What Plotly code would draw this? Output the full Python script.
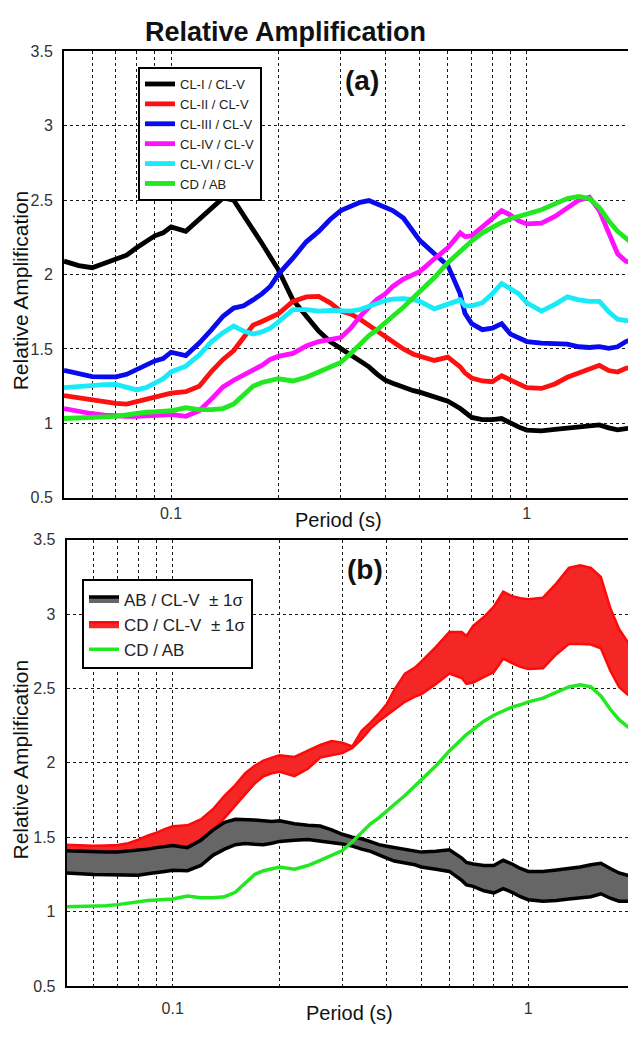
import math
import plotly.graph_objects as go

# ---------------- data ----------------
periods = [0.05, 0.055, 0.06, 0.065, 0.07, 0.075, 0.08, 0.085, 0.09, 0.095,
           0.1, 0.11, 0.12, 0.13, 0.14, 0.15, 0.16, 0.17, 0.18, 0.19,
           0.2, 0.22, 0.24, 0.26, 0.28,
           0.3, 0.32, 0.34, 0.36, 0.38,
           0.4, 0.42, 0.45, 0.48,
           0.5, 0.55, 0.6, 0.65, 0.67,
           0.7, 0.75, 0.8, 0.85, 0.9, 0.95,
           1.0, 1.1, 1.2, 1.3, 1.4, 1.5, 1.6, 1.7, 1.8, 1.9, 2.0]

cl1_cl5 = [2.09, 2.06, 2.046, 2.075, 2.10, 2.13, 2.18, 2.22, 2.26, 2.28,
           2.32, 2.29, 2.37, 2.45, 2.515, 2.50, 2.40, 2.31, 2.21, 2.12,
           2.035, 1.83, 1.72, 1.62, 1.55,
           1.50, 1.46, 1.42, 1.38, 1.33,
           1.29, 1.27, 1.24, 1.22,
           1.21, 1.18, 1.15, 1.10, 1.075,
           1.04, 1.026, 1.025, 1.033, 1.00, 0.975,
           0.955, 0.95, 0.96, 0.968, 0.975, 0.985, 0.99, 0.97, 0.957, 0.965, 0.97]

cl2_cl5 = [1.187, 1.17, 1.16, 1.145, 1.135, 1.13, 1.145, 1.16, 1.175, 1.19,
           1.203, 1.213, 1.25, 1.35, 1.43, 1.49, 1.58, 1.66, 1.685, 1.71,
           1.735, 1.82, 1.85, 1.853, 1.81,
           1.754, 1.735, 1.70, 1.66, 1.615,
           1.58, 1.545, 1.50, 1.465,
           1.45, 1.423, 1.445, 1.38, 1.34,
           1.305, 1.285, 1.28, 1.32, 1.29, 1.26,
           1.24, 1.235, 1.265, 1.31, 1.34, 1.36, 1.39, 1.355, 1.345, 1.37, 1.38]

cl3_cl5 = [1.357, 1.335, 1.315, 1.313, 1.313, 1.33, 1.36, 1.39, 1.42, 1.435,
           1.478, 1.456, 1.54, 1.63, 1.72, 1.775, 1.79, 1.83, 1.87, 1.92,
           2.00, 2.11, 2.22, 2.29, 2.37,
           2.43, 2.46, 2.485, 2.497, 2.475,
           2.455, 2.43, 2.38, 2.29,
           2.23, 2.14, 2.06, 1.87, 1.74,
           1.67, 1.63, 1.64, 1.67, 1.60, 1.575,
           1.55, 1.54, 1.54, 1.533, 1.515, 1.51, 1.516, 1.505, 1.515, 1.55, 1.57]

cl4_cl5 = [1.10, 1.08, 1.065, 1.055, 1.048, 1.048, 1.048, 1.052, 1.058, 1.06,
           1.06, 1.048, 1.085, 1.165, 1.245, 1.29, 1.325, 1.35, 1.39, 1.43,
           1.45, 1.47, 1.52, 1.55, 1.56,
           1.577, 1.64, 1.72, 1.78, 1.835,
           1.87, 1.92, 1.97, 2.0,
           2.02, 2.106, 2.18, 2.28, 2.255,
           2.26, 2.32, 2.38, 2.43, 2.40, 2.36,
           2.34, 2.345, 2.39, 2.45, 2.50, 2.52, 2.43, 2.28, 2.14, 2.09, 2.08]

cl6_cl5 = [1.24, 1.25, 1.258, 1.26, 1.262, 1.245, 1.225, 1.24, 1.27, 1.30,
           1.346, 1.385, 1.46, 1.55, 1.61, 1.654, 1.62, 1.60, 1.615, 1.64,
           1.68, 1.764, 1.764, 1.755, 1.76,
           1.76, 1.755, 1.765, 1.785, 1.81,
           1.825, 1.835, 1.838, 1.832,
           1.82, 1.77, 1.805, 1.83, 1.79,
           1.79, 1.81, 1.87, 1.94, 1.905, 1.87,
           1.81, 1.755, 1.80, 1.85, 1.83, 1.82, 1.82, 1.75, 1.70, 1.69, 1.69]

cd_ab = [1.033, 1.035, 1.037, 1.04, 1.047, 1.058, 1.07, 1.075, 1.078, 1.08,
         1.085, 1.105, 1.093, 1.093, 1.10, 1.13, 1.19, 1.25, 1.275, 1.29,
         1.30, 1.285, 1.31, 1.345, 1.38,
         1.41, 1.47, 1.53, 1.59, 1.63,
         1.68, 1.72, 1.78, 1.845,
         1.88, 1.98, 2.08, 2.16, 2.19,
         2.225, 2.28, 2.32, 2.35, 2.375, 2.39,
         2.41, 2.435, 2.475, 2.51, 2.525, 2.51, 2.45, 2.36, 2.29, 2.24, 2.2]

ab_cl5_hi = [1.41, 1.405, 1.40, 1.40, 1.40, 1.405, 1.41, 1.42, 1.43, 1.44,
             1.445, 1.43, 1.48, 1.55, 1.60, 1.62, 1.62, 1.615, 1.61, 1.605,
             1.61, 1.59, 1.58, 1.575, 1.55,
             1.52, 1.50, 1.49, 1.47, 1.45,
             1.44, 1.43, 1.42, 1.405,
             1.40, 1.405, 1.415, 1.36, 1.33,
             1.32, 1.31, 1.31, 1.345, 1.32, 1.29,
             1.27, 1.27, 1.28, 1.29, 1.30, 1.315, 1.325, 1.29, 1.26, 1.245, 1.24]

ab_cl5_lo = [1.26, 1.255, 1.25, 1.248, 1.245, 1.245, 1.245, 1.255, 1.265, 1.27,
             1.278, 1.275, 1.31, 1.38, 1.42, 1.45, 1.457, 1.452, 1.45, 1.46,
             1.472, 1.48, 1.485, 1.475, 1.465,
             1.455, 1.44, 1.42, 1.405, 1.38,
             1.36, 1.34, 1.325, 1.315,
             1.30, 1.285, 1.27, 1.21, 1.18,
             1.17, 1.14, 1.125, 1.155, 1.13, 1.10,
             1.08, 1.07, 1.075, 1.085, 1.095, 1.10, 1.12, 1.09, 1.07, 1.07, 1.07]

cd_cl5_hi = [1.45, 1.445, 1.442, 1.445, 1.448, 1.46, 1.483, 1.51, 1.53, 1.555,
             1.574, 1.58, 1.62, 1.69, 1.78, 1.85, 1.93, 1.98, 2.015, 2.035,
             2.05, 2.04, 2.08, 2.12, 2.147,
             2.136, 2.11, 2.215, 2.27, 2.33,
             2.395, 2.49, 2.60, 2.64,
             2.68, 2.78, 2.88, 2.88, 2.853,
             2.92, 2.98, 3.05, 3.15, 3.12, 3.106,
             3.10, 3.11, 3.206, 3.31, 3.327, 3.31, 3.25, 3.04, 2.90, 2.815, 2.78]

cd_cl5_lo = [1.405, 1.395, 1.387, 1.387, 1.387, 1.39, 1.398, 1.41, 1.42, 1.432,
             1.442, 1.43, 1.46, 1.55, 1.63, 1.71, 1.79, 1.86, 1.91, 1.93,
             1.94, 1.91, 1.96, 2.035, 2.05,
             2.065, 2.10, 2.16, 2.23, 2.28,
             2.32, 2.36, 2.41, 2.445,
             2.46, 2.53, 2.60, 2.57, 2.53,
             2.54, 2.575, 2.61, 2.70, 2.67, 2.645,
             2.63, 2.635, 2.73, 2.798, 2.798, 2.795, 2.77, 2.62, 2.51, 2.46, 2.44]

x_grid_vals = [0.06, 0.07, 0.08, 0.09, 0.1, 0.2, 0.3, 0.4, 0.5, 0.6, 0.7, 0.8, 0.9, 1.0]
x_grid_text = ["", "", "", "", "0.1", "", "", "", "", "", "", "", "", "1"]
y_tick_vals = [0.5, 1, 1.5, 2, 2.5, 3, 3.5]
y_tick_text = ["0.5", "1", "1.5", "2", "2.5", "3", "3.5"]

# ---------------- figure ----------------
W, H = 628, 1038
FONT = "Liberation Sans, Arial, sans-serif"

fig = go.Figure()

series_a = [
    ("CL-I / CL-V", cl1_cl5, "#000000"),
    ("CL-II / CL-V", cl2_cl5, "#ff1010"),
    ("CL-III / CL-V", cl3_cl5, "#0a0aee"),
    ("CL-IV / CL-V", cl4_cl5, "#ff10ff"),
    ("CL-VI / CL-V", cl6_cl5, "#18eaf8"),
    ("CD / AB", cd_ab, "#22e822"),
]
for name, ys, col in series_a:
    fig.add_trace(go.Scatter(x=periods, y=ys, mode="lines", name=name,
                             line=dict(color=col, width=4.8),
                             xaxis="x", yaxis="y", legend="legend"))

# panel b
fig.add_trace(go.Scatter(x=periods + periods[::-1], y=cd_cl5_hi + cd_cl5_lo[::-1],
                         mode="lines", fill="toself", fillcolor="#f42626",
                         line=dict(color="#ff0a0a", width=2.5),
                         name="CD / CL-V \u00a0\u00b1 1\u03c3", legendrank=2,
                         xaxis="x2", yaxis="y2", legend="legend2"))
fig.add_trace(go.Scatter(x=periods + periods[::-1], y=ab_cl5_hi + ab_cl5_lo[::-1],
                         mode="lines", fill="toself", fillcolor="#666666",
                         line=dict(color="#000000", width=3.5),
                         name="AB / CL-V \u00a0\u00b1 1\u03c3", legendrank=1,
                         xaxis="x2", yaxis="y2", legend="legend2"))
fig.add_trace(go.Scatter(x=periods, y=cd_ab, mode="lines", name="CD / AB",
                         line=dict(color="#22e822", width=3.5), legendrank=3,
                         xaxis="x2", yaxis="y2", legend="legend2"))


def px_y(v):
    return 1 - v / H


def xaxis_cfg(dom_left, rng, anchor, standoff):
    return dict(type="log", range=rng, domain=[dom_left / W, 1], anchor=anchor,
                tickvals=x_grid_vals, ticktext=x_grid_text, ticks="",
                showgrid=True, gridcolor="#1a1a1a", gridwidth=1, griddash="dot",
                showline=True, linecolor="#000", linewidth=2, mirror=True,
                zeroline=False, ticklabelstandoff=standoff,
                tickfont=dict(family=FONT, size=16, color="#333"))


def yaxis_cfg(top, bottom, anchor):
    return dict(range=[0.5, 3.5], domain=[px_y(bottom), px_y(top)], anchor=anchor,
                tickvals=y_tick_vals, ticktext=y_tick_text, ticks="",
                showgrid=True, gridcolor="#1a1a1a", gridwidth=1, griddash="dot",
                showline=True, linecolor="#000", linewidth=2, mirror=False,
                zeroline=False, ticklabelstandoff=6,
                tickfont=dict(family=FONT, size=16, color="#333"))


fig.update_layout(
    width=W, height=H,
    margin=dict(l=0, r=0, t=0, b=0),
    paper_bgcolor="white", plot_bgcolor="white",
    showlegend=True,
    font=dict(family=FONT, color="#222"),
    xaxis=xaxis_cfg(64, [math.log10(0.05), 0.2846], "y", 0),
    yaxis=yaxis_cfg(44, 498, "x"),
    xaxis2=xaxis_cfg(66.7, [-1.298, 0.2804], "y2", 7),
    yaxis2=yaxis_cfg(540.5, 994.3, "x2"),
    legend=dict(x=138 / W, y=px_y(60), xanchor="left", yanchor="top",
                bgcolor="white", bordercolor="#000", borderwidth=2,
                font=dict(family=FONT, size=13, color="#222"),
                tracegroupgap=0, itemwidth=30),
    legend2=dict(x=82 / W, y=px_y(581), xanchor="left", yanchor="top",
                 bgcolor="white", bordercolor="#000", borderwidth=2,
                 font=dict(family=FONT, size=17, color="#222"),
                 tracegroupgap=0, itemwidth=30, traceorder="normal"),
)

annos = [
    dict(text="<b>Relative Amplification</b>", x=285 / W, y=px_y(24), size=27, angle=0),
    dict(text="<b>(a)</b>", x=362 / W, y=px_y(74), size=28, angle=0),
    dict(text="<b>(b)</b>", x=365 / W, y=px_y(571), size=28, angle=0),
    dict(text="Period (s)", x=338 / W, y=px_y(521), size=20, angle=0),
    dict(text="Period (s)", x=349 / W, y=px_y(1022), size=20, angle=0),
    dict(text="Relative Amplification", x=20 / W, y=px_y(287), size=21, angle=-90),
    dict(text="Relative Amplification", x=20 / W, y=px_y(764), size=21, angle=-90),
]
for a in annos:
    fig.add_annotation(text=a["text"], x=a["x"], y=a["y"], xref="paper", yref="paper",
                       xanchor="center", yanchor="middle", showarrow=False,
                       textangle=a["angle"],
                       font=dict(family=FONT, size=a["size"], color="#111"))

fig.write_html("out.html", config={"displayModeBar": False})
